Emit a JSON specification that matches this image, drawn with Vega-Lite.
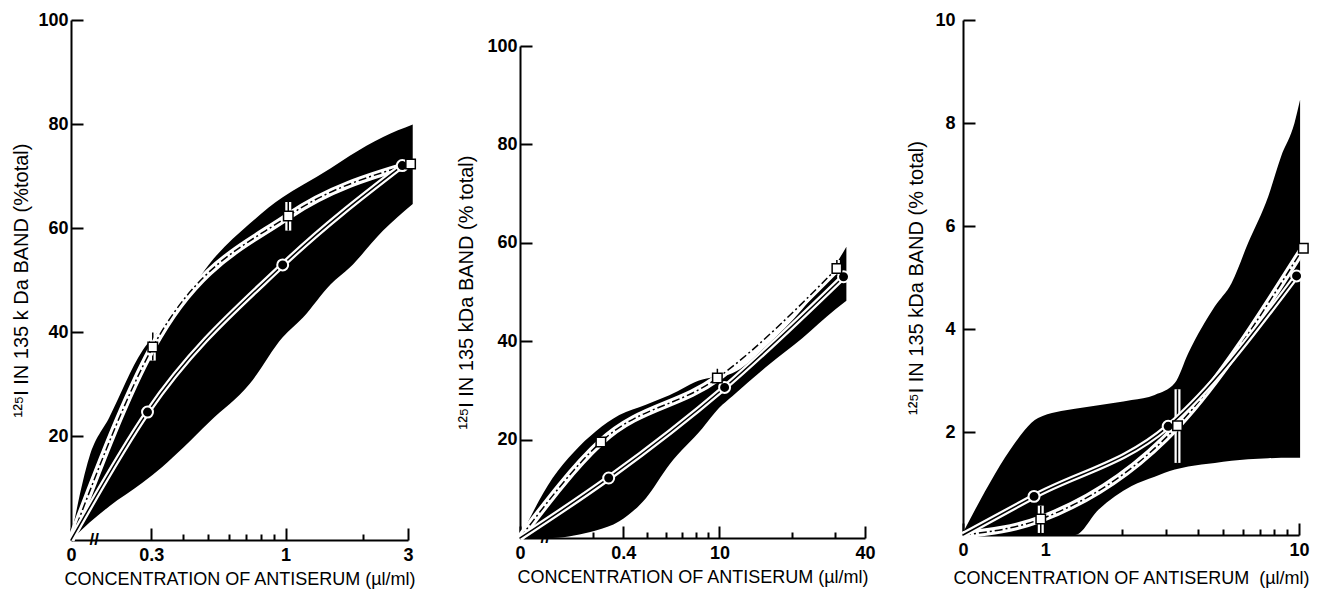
{
  "$schema": "https://vega.github.io/schema/vega-lite/v6.json",
  "padding": {"left": 11, "top": 11, "right": 2, "bottom": 2},
  "background": "white",
  "spacing": 30,
  "datasets": {
    "band1": [
      {"c": 0.146, "y": 0, "y2": 0.5}, {"c": 0.172, "y": 3.3, "y2": 15.9}, {"c": 0.206, "y": 6.5, "y2": 23.6},
      {"c": 0.277, "y": 11, "y2": 36.4}, {"c": 0.33, "y": 14, "y2": 40.9}, {"c": 0.4, "y": 17.8, "y2": 46},
      {"c": 0.505, "y": 22.7, "y2": 53.1}, {"c": 0.724, "y": 30, "y2": 60.8}, {"c": 0.975, "y": 39, "y2": 65.9},
      {"c": 1.17, "y": 42.8, "y2": 68.3}, {"c": 1.5, "y": 49.2, "y2": 71.5}, {"c": 1.78, "y": 52.4, "y2": 73.9},
      {"c": 2.4, "y": 59.5, "y2": 77.5}, {"c": 3.13, "y": 64.6, "y2": 79.9}
    ],
    "sq1": [{"c": 0.146, "y": 0}, {"c": 0.304, "y": 37.1}, {"c": 1.025, "y": 62.3}, {"c": 3.07, "y": 72.3}],
    "ci1": [{"c": 0.146, "y": 0}, {"c": 0.29, "y": 24.6}, {"c": 0.975, "y": 52.9}, {"c": 2.85, "y": 72.0}],
    "err1": [{"c": 0.304, "y": 34.5, "y2": 39.9}, {"c": 1.025, "y": 59.5, "y2": 65}],
    "brk1": [{"c": 0.18, "y": 0, "t": "//"}],
    "band2": [
      {"c": 1.495, "y": 0, "y2": 0}, {"c": 2.04, "y": 0, "y2": 12.2}, {"c": 2.5, "y": 0.5, "y2": 17.5},
      {"c": 3.08, "y": 1.5, "y2": 21.7}, {"c": 3.85, "y": 3.4, "y2": 25}, {"c": 4.96, "y": 8.1, "y2": 27.1},
      {"c": 6.2, "y": 14.9, "y2": 29}, {"c": 8.5, "y": 22.3, "y2": 32.2}, {"c": 9.95, "y": 26.4, "y2": 32.8},
      {"c": 11.3, "y": 28.8, "y2": 33.5}, {"c": 16, "y": 35.2, "y2": 39.5}, {"c": 22, "y": 40.6, "y2": 46.5},
      {"c": 30.2, "y": 46.5, "y2": 55.5}, {"c": 33.5, "y": 48.2, "y2": 59.2}
    ],
    "sq2": [{"c": 1.495, "y": 0}, {"c": 3.23, "y": 19.5}, {"c": 9.8, "y": 32.5}, {"c": 30.6, "y": 54.8}],
    "ci2": [{"c": 1.495, "y": 0}, {"c": 3.48, "y": 12.2}, {"c": 10.5, "y": 30.6}, {"c": 32.6, "y": 53.1}],
    "err2": [{"c": 9.8, "y": 31.5, "y2": 34.4}, {"c": 30.6, "y": 53.5, "y2": 56.5}],
    "brk2": [{"c": 1.9, "y": 0, "t": "//"}],
    "band3": [
      {"c": 0.474, "y": 0, "y2": 0.05}, {"c": 0.76, "y": 0, "y2": 1.79}, {"c": 0.83, "y": 0, "y2": 2.04},
      {"c": 0.937, "y": 0, "y2": 2.27}, {"c": 1.31, "y": 0, "y2": 2.45}, {"c": 1.62, "y": 0.49, "y2": 2.52},
      {"c": 2.19, "y": 0.95, "y2": 2.62}, {"c": 2.7, "y": 1.13, "y2": 2.72}, {"c": 3.24, "y": 1.27, "y2": 2.95},
      {"c": 3.66, "y": 1.33, "y2": 3.53}, {"c": 4.66, "y": 1.4, "y2": 4.44}, {"c": 5.42, "y": 1.44, "y2": 4.89},
      {"c": 6.3, "y": 1.47, "y2": 5.67}, {"c": 7.57, "y": 1.49, "y2": 6.58}, {"c": 8.5, "y": 1.5, "y2": 7.35},
      {"c": 9.6, "y": 1.5, "y2": 8.0}, {"c": 10.1, "y": 1.5, "y2": 8.45}
    ],
    "sq3": [{"c": 0.474, "y": 0}, {"c": 0.96, "y": 0.31}, {"c": 3.32, "y": 2.12}, {"c": 10.4, "y": 5.57}],
    "ci3": [{"c": 0.474, "y": 0}, {"c": 0.903, "y": 0.75}, {"c": 3.05, "y": 2.11}, {"c": 9.78, "y": 5.03}],
    "err3": [{"c": 0.96, "y": 0.04, "y2": 0.57}, {"c": 3.32, "y": 1.4, "y2": 2.83}],
    "spacer": [{"c": 1}]
  },
  "config": {
    "view": {"stroke": null},
    "axis": {
      "grid": false, "domainColor": "black", "domainWidth": 2, "tickColor": "black", "tickWidth": 2,
      "labelFont": "Liberation Sans", "labelFontSize": 18, "labelFontWeight": "bold", "labelColor": "black",
      "labelOverlap": false, "labelFlush": false,
      "titleFont": "Liberation Sans", "titleFontSize": 18, "titleFontWeight": "normal", "titleColor": "black"
    }
  },
  "hconcat": [
    {
      "width": 337, "height": 520,
      "resolve": {"axis": {"x": "independent"}},
      "encoding": {
        "x": {"field": "c", "type": "quantitative", "scale": {"type": "log", "domain": [0.146, 3]}, "axis": null},
        "y": {"field": "y", "type": "quantitative", "scale": {"domain": [0, 100]},
          "axis": {"values": [20, 40, 60, 80, 100], "tickSize": -12, "labelPadding": 15,
            "title": "¹²⁵I IN 135 k Da BAND (%total)", "titleFontSize": 20, "titlePadding": 6}}
      },
      "layer": [
        {"data": {"name": "band1"}, "mark": {"type": "area", "color": "black", "interpolate": "monotone"},
          "encoding": {
            "x": {"field": "c", "type": "quantitative", "scale": {"type": "log", "domain": [0.146, 3]},
              "axis": {"orient": "bottom", "values": [0.146, 0.3, 1, 3], "tickSize": -12, "labelPadding": 18,
                "labelExpr": "datum.value < 0.2 ? '0' : format(datum.value, '')",
                "title": "CONCENTRATION OF ANTISERUM (µl/ml)", "titlePadding": 6}},
            "y2": {"field": "y2"}}},
        {"data": {"name": "err1"}, "mark": {"type": "rule", "color": "white", "strokeWidth": 6},
          "encoding": {
            "x": {"field": "c", "type": "quantitative", "scale": {"type": "log", "domain": [0.146, 3]},
              "axis": {"orient": "bottom", "values": [0.4, 0.5, 0.6, 0.7, 0.8, 0.9, 2], "tickSize": -6, "labels": false, "domain": false, "title": null}},
            "y2": {"field": "y2"}}},
        {"data": {"name": "err1"}, "mark": {"type": "rule", "color": "black", "strokeWidth": 1.5}, "encoding": {"y2": {"field": "y2"}}},
        {"data": {"name": "sq1"}, "mark": {"type": "line", "color": "white", "strokeWidth": 7.5, "interpolate": "monotone"}},
        {"data": {"name": "sq1"}, "mark": {"type": "line", "color": "black", "strokeWidth": 1.5, "strokeDash": [8, 3, 2, 3], "interpolate": "monotone"}},
        {"data": {"name": "ci1"}, "mark": {"type": "line", "color": "white", "strokeWidth": 6, "interpolate": "monotone"}},
        {"data": {"name": "ci1"}, "mark": {"type": "line", "color": "black", "strokeWidth": 1.5, "interpolate": "monotone"}},
        {"data": {"name": "ci1"}, "transform": [{"filter": "datum.y > 0"}], "mark": {"type": "point", "shape": "circle", "filled": true, "fill": "black", "stroke": "white", "strokeWidth": 2, "size": 120, "opacity": 1}},
        {"data": {"name": "sq1"}, "transform": [{"filter": "datum.y > 0"}], "mark": {"type": "point", "shape": "square", "filled": true, "fill": "white", "stroke": "black", "strokeWidth": 1.5, "size": 90, "opacity": 1}},
        {"data": {"name": "brk1"}, "mark": {"type": "text", "fontSize": 17, "font": "Liberation Sans", "fontWeight": "bold", "color": "black", "baseline": "middle", "dy": 0}, "encoding": {"text": {"field": "t"}}}
      ]
    },
    {
      "spacing": 0,
      "vconcat": [
        {"width": 345, "height": 17, "data": {"name": "spacer"}, "mark": {"type": "text", "text": ""},
          "encoding": {"x": {"field": "c", "type": "quantitative", "axis": null}}},
        {
          "width": 345, "height": 492,
          "resolve": {"axis": {"x": "independent"}},
          "encoding": {
            "x": {"field": "c", "type": "quantitative", "scale": {"type": "log", "domain": [1.495, 40]}, "axis": null},
            "y": {"field": "y", "type": "quantitative", "scale": {"domain": [0, 100]},
              "axis": {"values": [20, 40, 60, 80, 100], "tickSize": -12, "labelPadding": 15,
                "title": "¹²⁵I IN 135 kDa BAND (% total)", "titleFontSize": 20, "titlePadding": 10}}
          },
          "layer": [
            {"data": {"name": "band2"}, "mark": {"type": "area", "color": "black", "interpolate": "monotone"},
              "encoding": {
                "x": {"field": "c", "type": "quantitative", "scale": {"type": "log", "domain": [1.495, 40]},
                  "axis": {"orient": "bottom", "values": [1.495, 4, 10, 40], "tickSize": -12, "labelPadding": 18,
                    "labelExpr": "datum.value < 2 ? '0' : (datum.value == 4 ? '0.4' : format(datum.value, ''))",
                    "title": "CONCENTRATION OF ANTISERUM (µl/ml)", "titlePadding": 6}},
                "y2": {"field": "y2"}}},
            {"data": {"name": "err2"}, "mark": {"type": "rule", "color": "white", "strokeWidth": 6},
              "encoding": {
                "x": {"field": "c", "type": "quantitative", "scale": {"type": "log", "domain": [1.495, 40]},
                  "axis": {"orient": "bottom", "values": [3, 5, 6, 7, 8, 9, 20, 30], "tickSize": -6, "labels": false, "domain": false, "title": null}},
                "y2": {"field": "y2"}}},
            {"data": {"name": "err2"}, "mark": {"type": "rule", "color": "black", "strokeWidth": 1.5}, "encoding": {"y2": {"field": "y2"}}},
            {"data": {"name": "sq2"}, "mark": {"type": "line", "color": "white", "strokeWidth": 7.5, "interpolate": "monotone"}},
            {"data": {"name": "sq2"}, "mark": {"type": "line", "color": "black", "strokeWidth": 1.5, "strokeDash": [8, 3, 2, 3], "interpolate": "monotone"}},
            {"data": {"name": "ci2"}, "mark": {"type": "line", "color": "white", "strokeWidth": 6, "interpolate": "monotone"}},
            {"data": {"name": "ci2"}, "mark": {"type": "line", "color": "black", "strokeWidth": 1.5, "interpolate": "monotone"}},
            {"data": {"name": "ci2"}, "transform": [{"filter": "datum.y > 0"}], "mark": {"type": "point", "shape": "circle", "filled": true, "fill": "black", "stroke": "white", "strokeWidth": 2, "size": 120, "opacity": 1}},
            {"data": {"name": "sq2"}, "transform": [{"filter": "datum.y > 0"}], "mark": {"type": "point", "shape": "square", "filled": true, "fill": "white", "stroke": "black", "strokeWidth": 1.5, "size": 90, "opacity": 1}},
            {"data": {"name": "brk2"}, "mark": {"type": "text", "fontSize": 17, "font": "Liberation Sans", "fontWeight": "bold", "color": "black", "baseline": "middle", "dy": 0}, "encoding": {"text": {"field": "t"}}}
          ]
        }
      ]
    },
    {
      "width": 336, "height": 515,
      "resolve": {"axis": {"x": "independent"}},
      "encoding": {
        "x": {"field": "c", "type": "quantitative", "scale": {"type": "log", "domain": [0.474, 10]}, "axis": null},
        "y": {"field": "y", "type": "quantitative", "scale": {"domain": [0, 10]},
          "axis": {"values": [2, 4, 6, 8, 10], "tickSize": -12, "labelPadding": 20,
            "title": "¹²⁵I IN 135 kDa BAND (% total)", "titleFontSize": 20, "titlePadding": 8}}
      },
      "layer": [
        {"data": {"name": "band3"}, "mark": {"type": "area", "color": "black", "interpolate": "monotone"},
          "encoding": {
            "x": {"field": "c", "type": "quantitative", "scale": {"type": "log", "domain": [0.474, 10]},
              "axis": {"orient": "bottom", "values": [0.474, 1, 10], "tickSize": -12, "labelPadding": 18,
                "labelExpr": "datum.value < 0.6 ? '0' : format(datum.value, '')",
                "title": "CONCENTRATION OF ANTISERUM \u00a0(µl/ml)", "titlePadding": 10}},
            "y2": {"field": "y2"}}},
        {"data": {"name": "err3"}, "mark": {"type": "rule", "color": "white", "strokeWidth": 6},
          "encoding": {
            "x": {"field": "c", "type": "quantitative", "scale": {"type": "log", "domain": [0.474, 10]},
              "axis": {"orient": "bottom", "values": [2, 3, 4, 5, 6, 7, 8, 9], "tickSize": -6, "labels": false, "domain": false, "title": null}},
            "y2": {"field": "y2"}}},
        {"data": {"name": "err3"}, "mark": {"type": "rule", "color": "black", "strokeWidth": 1.5}, "encoding": {"y2": {"field": "y2"}}},
        {"data": {"name": "sq3"}, "mark": {"type": "line", "color": "white", "strokeWidth": 7.5, "interpolate": "monotone"}},
        {"data": {"name": "sq3"}, "mark": {"type": "line", "color": "black", "strokeWidth": 1.5, "strokeDash": [8, 3, 2, 3], "interpolate": "monotone"}},
        {"data": {"name": "ci3"}, "mark": {"type": "line", "color": "white", "strokeWidth": 6, "interpolate": "monotone"}},
        {"data": {"name": "ci3"}, "mark": {"type": "line", "color": "black", "strokeWidth": 1.5, "interpolate": "monotone"}},
        {"data": {"name": "ci3"}, "transform": [{"filter": "datum.y > 0"}], "mark": {"type": "point", "shape": "circle", "filled": true, "fill": "black", "stroke": "white", "strokeWidth": 2, "size": 120, "opacity": 1}},
        {"data": {"name": "sq3"}, "transform": [{"filter": "datum.y > 0"}], "mark": {"type": "point", "shape": "square", "filled": true, "fill": "white", "stroke": "black", "strokeWidth": 1.5, "size": 90, "opacity": 1}}
      ]
    }
  ]
}
